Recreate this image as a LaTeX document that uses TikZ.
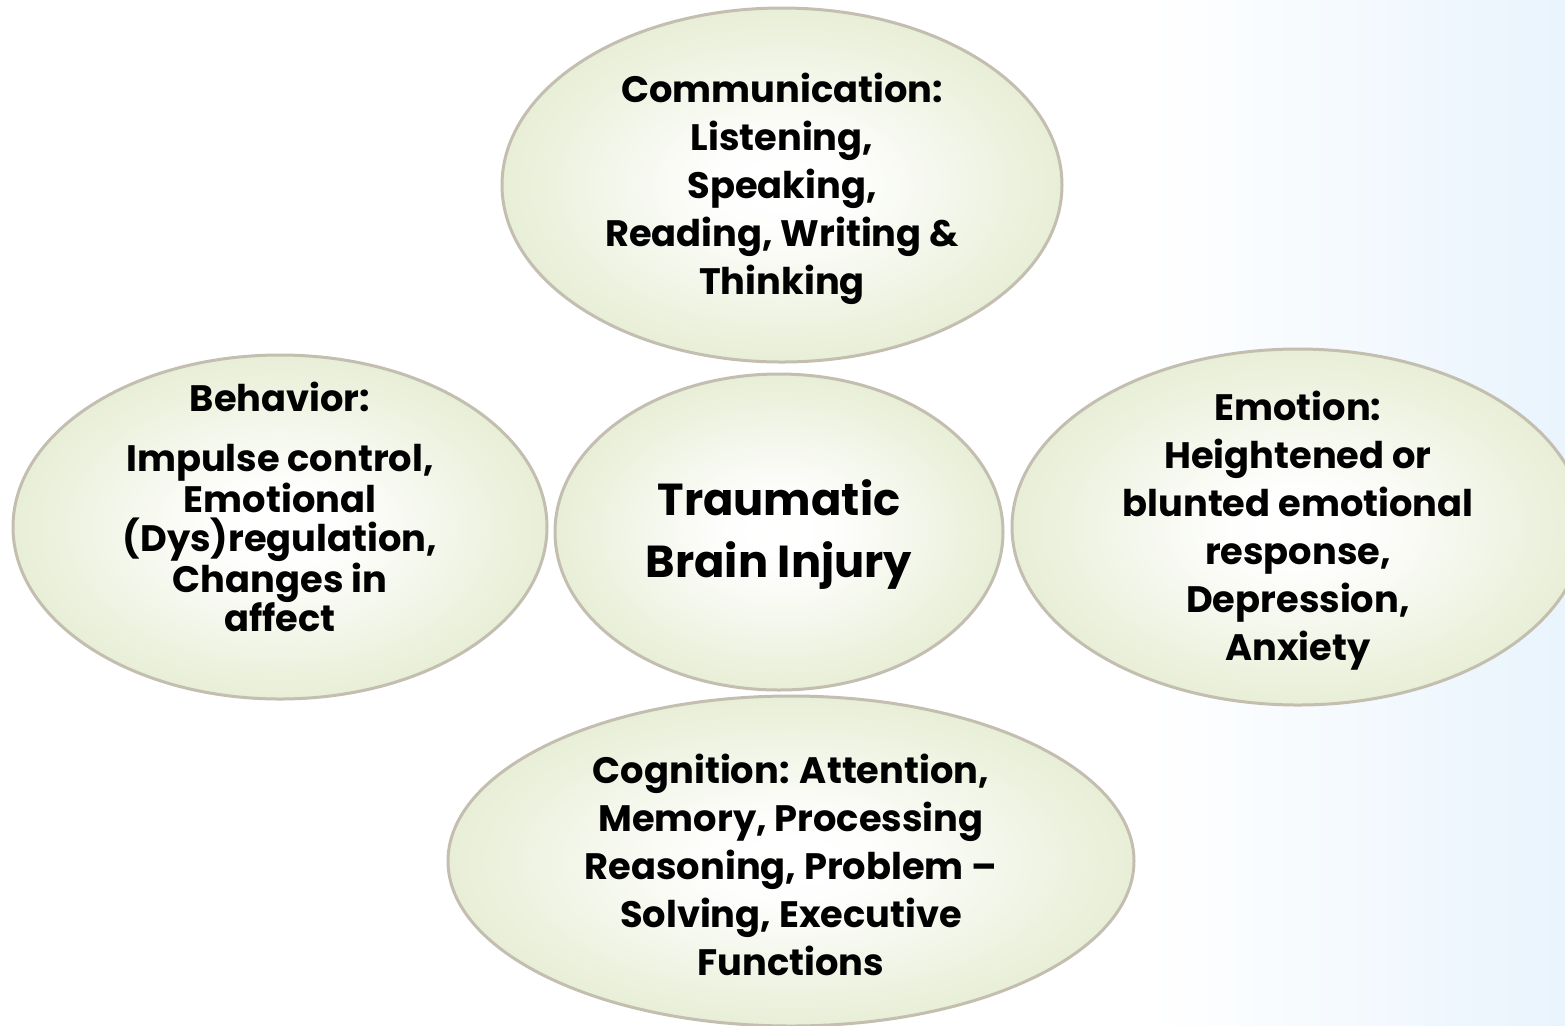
\documentclass[tikz,border=0pt]{standalone}
\usepackage{fontspec}
\setmainfont{Poppins}
\usepackage{tikz}
\usetikzlibrary{shapes.geometric, positioning}
\usepackage{xcolor}
\definecolor{ovalgreen}{RGB}{219,229,192}
\definecolor{ovalrim}{RGB}{196,190,176}
\definecolor{paleblue}{RGB}{233,244,253}
\pgfdeclareradialshading{ovalglow}{\pgfpoint{0bp}{0bp}}{color(0bp)=(white); color(6bp)=(white!97!ovalgreen); color(36bp)=(ovalgreen); color(50bp)=(ovalgreen)}
\tikzset{ovalnode/.style={shape=ellipse, draw=ovalrim, line width=1.5pt, shading=ovalglow, inner sep=0pt},
         ovaltext/.style={align=center, font=\fontsize{18.4}{24}\selectfont\bfseries, text=black, inner sep=0pt}}

\begin{document}
\begin{tikzpicture}[
        x=0.5pt, y=-0.5pt,
        bigtext/.style={align=center, font=\fontsize{22.4}{31}\selectfont\bfseries, text=black, inner sep=0pt},
        tighttext/.style={align=center, font=\fontsize{18.4}{19.5}\selectfont\bfseries, text=black, inner sep=0pt}
    ]
        % Background
        \useasboundingbox (0,0) rectangle (1565,1025);
        \clip (0,0) rectangle (1565,1025);
        \fill[white] (0,0) rectangle (1565,1025);
        \shade[left color=white, right color=paleblue] (1150,0) rectangle (1565,1025);
        % Ovals
        \node[ovalnode, minimum width=280pt, minimum height=177pt] (comm) at (782,185) {};
        \node[ovalnode, minimum width=224pt, minimum height=158pt] (tbi) at (779,532) {};
        \node[ovalnode, minimum width=267pt, minimum height=172pt] (behav) at (280,527) {};
        \node[ovalnode, minimum width=286pt, minimum height=178pt] (emot) at (1298,527) {};
        \node[ovalnode, minimum width=343pt, minimum height=165pt] (cogn) at (791,861) {};
        % Texts
        \node[ovaltext] (commtext) at (782,189) {Communication:\\Listening,\\Speaking,\\Reading, Writing \&\\Thinking};
        \node[bigtext] (tbitext) at (779,535) {Traumatic\\Brain Injury};
        \node[ovaltext] (behavtitle) at (280,397) {Behavior:};
        \node[tighttext] (behavtext) at (280,538) {Impulse control,\\Emotional\\(Dys)regulation,\\Changes in\\affect};
        \node[ovaltext] (emottext) at (1298,531) {Emotion:\\Heightened or\\blunted emotional\\response,\\Depression,\\Anxiety};
        \node[ovaltext] (cogntext) at (791,865) {Cognition: Attention,\\Memory, Processing\\Reasoning, Problem --\\Solving, Executive\\Functions};
    \end{tikzpicture}
\end{document}
